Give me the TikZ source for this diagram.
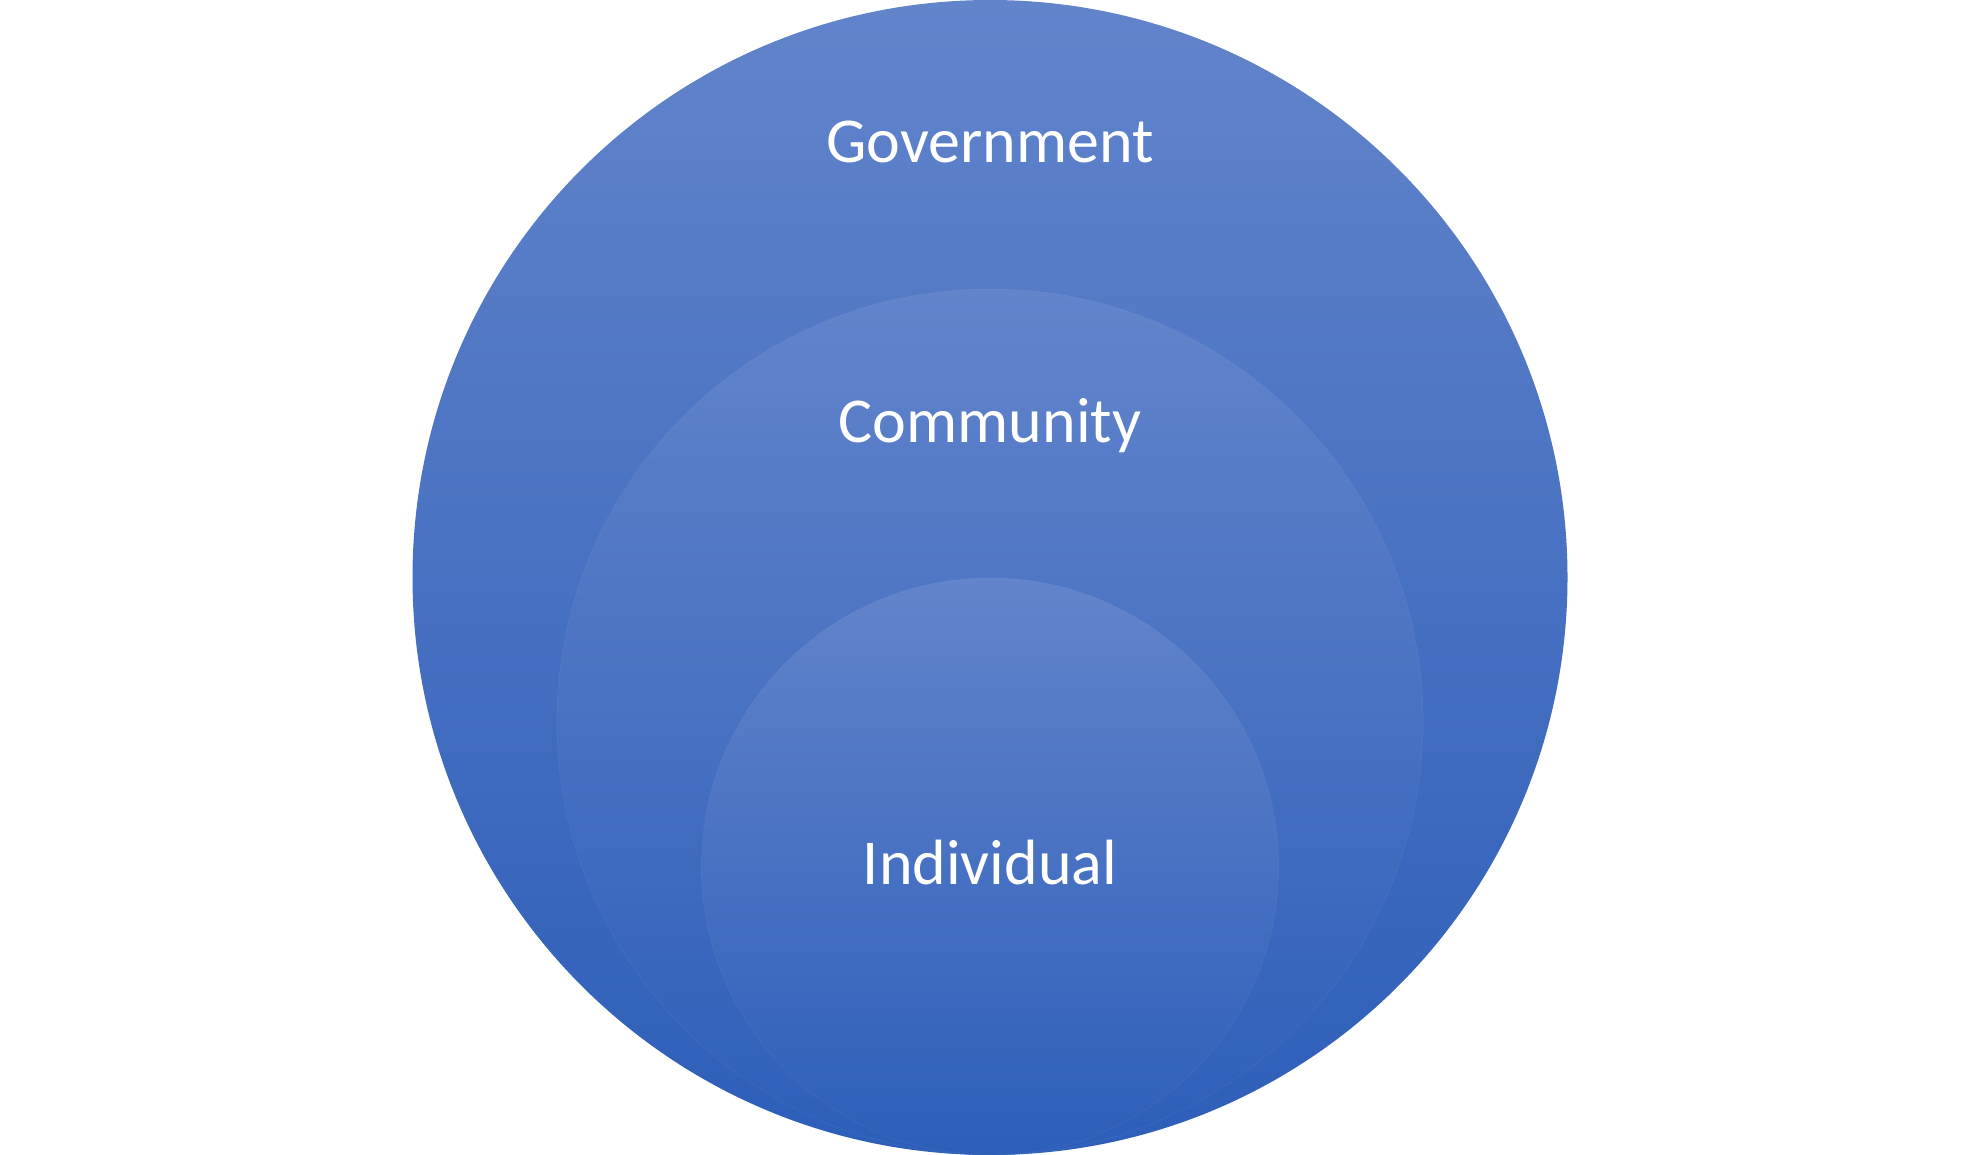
\documentclass[tikz,border=0pt]{standalone}
\usepackage{fontspec}
\setmainfont{Carlito}
\definecolor{gtop}{RGB}{98,132,203}
\definecolor{gmid}{RGB}{69,115,199}
\definecolor{gbot}{RGB}{45,94,185}
\tikzset{
  ring/.style={top color=gtop, middle color=gmid, bottom color=gbot},
  edge/.style={draw=white, draw opacity=0.05, line width=0.8pt},
  lbl/.style={text=white, font=\fontsize{64}{70}\selectfont, anchor=base, inner sep=0pt}
}
\begin{document}
\begin{tikzpicture}[x=1pt,y=-1pt]
  \useasboundingbox (0,0) rectangle (1980,1155);
  \fill[white] (0,0) rectangle (1980,1155);
  \shade[ring] (990,577.5) circle[radius=577.5pt];
  \shade[ring] (990,722) circle[radius=433pt];
  \draw[edge] (990,722) circle[radius=433pt];
  \shade[ring] (990,866.5) circle[radius=288.5pt];
  \draw[edge] (990,866.5) circle[radius=288.5pt];
  \node[lbl] (gov) at (990,163) {Government};
  \node[lbl] (com) at (990,442) {Community};
  \node[lbl] (ind) at (990,884) {Individual};
\end{tikzpicture}
\end{document}
